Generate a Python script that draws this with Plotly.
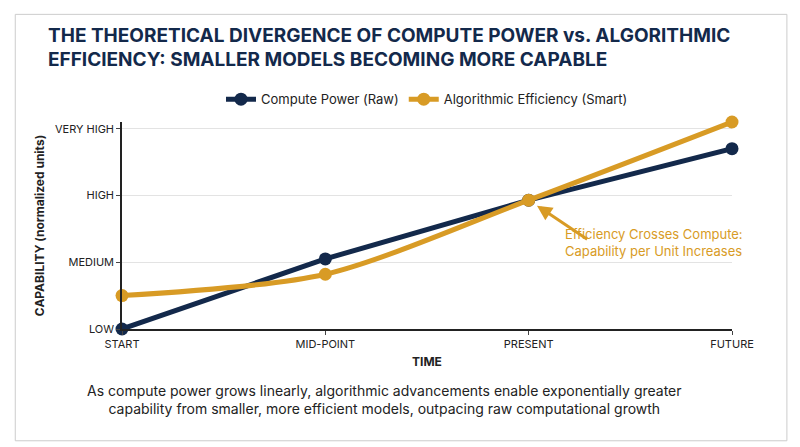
import plotly.graph_objects as go

x_labels = ["START", "MID-POINT", "PRESENT", "FUTURE"]
compute = [0.0, 1.05, 1.93, 2.7]
efficiency = [0.5, 0.82, 1.93, 3.1]
y_ticks = [0, 1, 2, 3]
y_labels = ["LOW", "MEDIUM", "HIGH", "VERY HIGH"]
xs = [0, 1, 2, 3]

navy = "#13294B"
gold = "#D89B25"

fig = go.Figure()
fig.add_trace(go.Scatter(x=xs, y=compute, mode="lines+markers", name="Compute Power (Raw)",
    line=dict(color=navy, width=5), marker=dict(size=13, color=navy), cliponaxis=False))
fig.add_trace(go.Scatter(x=xs, y=efficiency, mode="lines+markers", name="Algorithmic Efficiency (Smart)",
    line=dict(color=gold, width=5, shape="spline", smoothing=0.8), marker=dict(size=13, color=gold), cliponaxis=False))

fig.update_layout(
    width=800, height=447, paper_bgcolor="white", plot_bgcolor="white",
    margin=dict(l=114, r=76, t=114, b=126),
    font=dict(family="Inter, Roboto, sans-serif", color="#222"),
    title=dict(text="<b>THE THEORETICAL DIVERGENCE OF COMPUTE POWER vs. ALGORITHMIC<br>EFFICIENCY: SMALLER MODELS BECOMING MORE CAPABLE</b>",
               x=0.05, xanchor="left", y=0.925, yanchor="top", font=dict(size=19, color=navy)),
    legend=dict(orientation="h", x=0.5, xanchor="center", y=1.11, yanchor="middle", font=dict(size=13)),
    xaxis=dict(range=[0, 3], tickvals=xs, ticktext=x_labels, showgrid=False, showline=True,
               linecolor="#222", linewidth=1.5, ticks="outside", ticklen=4, tickfont=dict(size=11),
               title=dict(text="<b>TIME</b>", font=dict(size=12), standoff=8), zeroline=False),
    yaxis=dict(range=[0, 3.1], tickvals=y_ticks, ticktext=y_labels, showgrid=True, gridcolor="#e3e3e3",
               showline=True, linecolor="#222", linewidth=1.5, ticks="outside", ticklen=4, tickfont=dict(size=11),
               title=dict(text="<b>CAPABILITY (normalized units)</b>", font=dict(size=12), standoff=8), zeroline=False),
    shapes=[dict(type="rect", xref="paper", yref="paper", x0=-0.175, x1=1.09, y0=-0.54, y1=1.52,
                 line=dict(color="#cccccc", width=1))],
)
fig.add_annotation(x=2, y=1.93, ax=60, ay=40, axref="pixel", ayref="pixel", text="", showarrow=True,
                   arrowhead=2, arrowsize=1, arrowwidth=3, arrowcolor=gold, standoff=10)
fig.add_annotation(x=2.17, y=1.3, xanchor="left", yanchor="middle", showarrow=False,
                   text="Efficiency Crosses Compute:<br>Capability per Unit Increases",
                   font=dict(size=13, color=gold), align="left")
fig.add_annotation(xref="paper", yref="paper", x=0.43, y=-0.245, yanchor="top", showarrow=False,
                   text="As compute power grows linearly, algorithmic advancements enable exponentially greater<br>capability from smaller, more efficient models, outpacing raw computational growth",
                   font=dict(size=14, color="#222"))
fig.write_html("out.html")
